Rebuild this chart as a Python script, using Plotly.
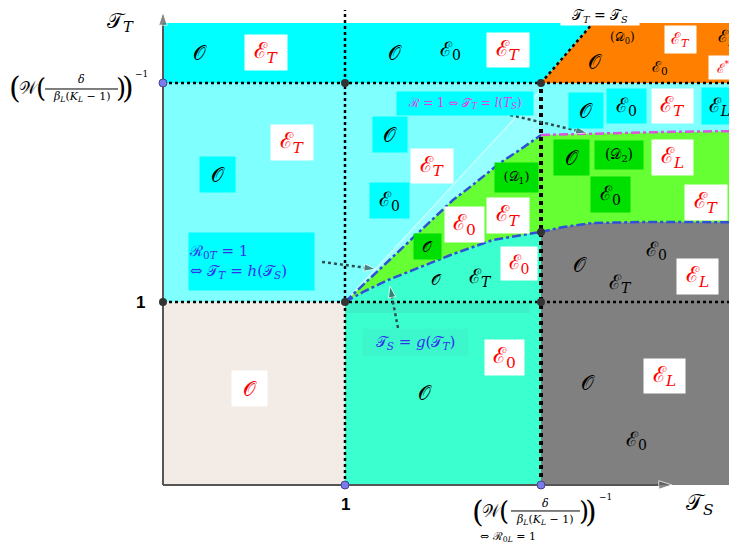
import plotly.graph_objects as go

# ---------------- key values (data units) ----------------
X_ONE = 1.0          # T_S = 1
X_W = 2.077          # T_S = (W(delta/(beta_L(K_L-1))))^-1
X_MAX = 3.154        # right edge of drawn domain
Y_ONE = 1.0          # T_T = 1
Y_W = 2.197          # T_T = (W(...))^-1
Y_MAX = 2.525        # top of drawn domain
X_DIAG_TOP = 2.363   # T_T = T_S line reaching the top
X_ARROW = 2.797      # tip of T_S axis
Y_ARROW = 2.585      # tip of T_T axis
Y_VTOP = 2.596       # top of the dotted T_S = 1 line

# curve T_T = h(T_S)  (R_0T = 1)
h_x = [1.0, 1.12, 1.286, 1.44, 1.593, 1.687, 1.852, 1.96, 2.077]
h_y = [1.0, 1.112, 1.268, 1.411, 1.557, 1.628, 1.760, 1.831, 1.913]
# curve T_S = g(T_T)
g_x = [1.0, 1.1, 1.236, 1.4, 1.593, 1.813, 2.077]
g_y = [1.0, 1.055, 1.120, 1.186, 1.262, 1.339, 1.383]
# continuation of the lower blue curve for T_S > W^-1
lr_x = [2.077, 2.2, 2.363, 2.637, 2.9, 3.154]
lr_y = [1.383, 1.41, 1.432, 1.437, 1.437, 1.435]
# curve R = 1  <=>  T_T = l(T_S)
m_x = [2.077, 2.4, 2.8, 3.154]
m_y = [1.913, 1.922, 1.930, 1.934]
# pale diagonal stripe end
pale_x = [1.0, 2.071]
pale_y = [1.0, 2.153]

# colours
C_CYAN = "#00FFFF"
C_LCYAN = "#80FFFF"
C_PALE = "#96FFFF"
C_ORANGE = "#FF8000"
C_GREEN = "#66FF33"
C_DGREEN = "#00E000"
C_GRAY = "#808080"
C_BEIGE = "#F3EBE6"
C_AQUA = "#3CFFCF"
C_STRIP = "#3EF0C8"
C_BLUE = "#3050D8"
C_MAG = "#DD55DD"
C_ARR = "#2F4F4F"
C_AXIS = "#555555"

FONT = "DejaVu Serif"

fig = go.Figure()


def poly(xs, ys, color):
    fig.add_trace(go.Scatter(x=xs, y=ys, fill="toself", fillcolor=color, mode="lines",
                             line=dict(width=0, color=color), hoverinfo="skip", showlegend=False))


def line(xs, ys, color, width, dash="solid", opacity=1.0):
    fig.add_trace(go.Scatter(x=xs, y=ys, mode="lines", opacity=opacity,
                             line=dict(width=width, color=color, dash=dash),
                             hoverinfo="skip", showlegend=False))


def arrow(xs, ys, color, width, dash, size):
    fig.add_trace(go.Scatter(x=xs, y=ys, mode="lines+markers",
                             line=dict(width=width, color=color, dash=dash),
                             marker=dict(symbol="arrow", angleref="previous", size=[0, size], color=color),
                             hoverinfo="skip", showlegend=False))


# ---------------- regions ----------------
poly([0, X_W, X_DIAG_TOP, 0], [Y_W, Y_W, Y_MAX, Y_MAX], C_CYAN)
poly([X_W, X_MAX, X_MAX, X_DIAG_TOP], [Y_W, Y_W, Y_MAX, Y_MAX], C_ORANGE)
poly([0, X_MAX, X_MAX, 0], [Y_ONE, Y_ONE, Y_W, Y_W], C_LCYAN)
poly([0, X_ONE, X_ONE, 0], [0, 0, Y_ONE, Y_ONE], C_BEIGE)
poly([X_ONE, X_W] + g_x[::-1], [0, 0] + g_y[::-1], C_AQUA)
poly([X_ONE, 2.016, 2.016, X_ONE], [0.94, 0.94, Y_ONE, Y_ONE], C_STRIP)
poly(pale_x + [X_W] + h_x[::-1], pale_y + [pale_y[-1]] + h_y[::-1], C_PALE)
poly(h_x + m_x[1:] + lr_x[::-1] + g_x[::-1][1:], h_y + m_y[1:] + lr_y[::-1] + g_y[::-1][1:], C_GREEN)
poly([X_W, X_MAX] + lr_x[::-1], [0, 0] + lr_y[::-1], C_GRAY)

# pale diagonal
line(pale_x, pale_y, "white", 1.2, opacity=0.6)

# ---------------- curves ----------------
line(h_x, h_y, C_BLUE, 2.5, "dashdot")
line(g_x, g_y, C_BLUE, 2.5, "dashdot")
line(lr_x, lr_y, C_BLUE, 2.5, "dashdot")
line(m_x, m_y, C_MAG, 2.5, "dashdot")

# ---------------- dotted reference lines ----------------
line([0, X_MAX], [Y_W, Y_W], "black", 2.5, "dot")
line([0, X_MAX], [Y_ONE, Y_ONE], "black", 2.5, "dot")
line([X_ONE, X_ONE], [0, Y_VTOP], "black", 2.5, "dot")
line([X_W, X_W], [0, Y_W], "black", 4, "dot")
line([X_W, X_DIAG_TOP], [Y_W, Y_MAX], "black", 2.5, "dot")

# ---------------- axes ----------------
arrow([0, X_ARROW], [0, 0], C_AXIS, 2, "solid", 14)
arrow([0, 0], [0, Y_ARROW], C_AXIS, 2, "solid", 14)

# pointer arrows
arrow([0.874, 1.168], [1.219, 1.180], C_ARR, 2.5, "dot", 12)
arrow([1.291, 1.247], [0.858, 1.087], C_ARR, 2.5, "dot", 12)
arrow([1.907, 2.330], [2.022, 1.924], C_ARR, 2.5, "dot", 12)

# ---------------- points ----------------
dark_x = [X_ONE, 0, X_ONE, X_W, X_W, X_W]
dark_y = [Y_W, Y_ONE, Y_ONE, Y_W, 1.383, Y_ONE]
blue_x = [0, X_ONE, X_W]
blue_y = [Y_W, 0, 0]
fig.add_trace(go.Scatter(x=dark_x, y=dark_y, mode="markers",
                         marker=dict(size=8, color="#333333"), hoverinfo="skip", showlegend=False))
fig.add_trace(go.Scatter(x=blue_x, y=blue_y, mode="markers",
                         marker=dict(size=8, color="#7B7BEE", line=dict(width=1, color="#444488")),
                         hoverinfo="skip", showlegend=False))

# ---------------- labels ----------------
O = "𝒪"
E = "ℰ"


def sub(s):
    return f"<sub>{s}</sub>"


def isub(s):
    return f"<sub><i>{s}</i></sub>"


# (text, x, y, colour, box colour, font size, box width, box height)
labels = [
    # top band
    (O, 0.203, 2.361, "black", C_CYAN, 20, 32, 35),
    (E + isub("T"), 0.566, 2.366, "red", "white", 22, 42, 35),
    (O, 1.275, 2.361, "black", None, 20, 0, 0),
    (E + sub("0"), 1.577, 2.377, "black", None, 20, 0, 0),
    (E + isub("T"), 1.896, 2.377, "red", "white", 22, 42, 34),
    # orange
    ("(𝒟" + sub("0") + ")", 2.527, 2.443, "black", None, 12, 0, 0),
    (O, 2.374, 2.311, "black", None, 20, 0, 0),
    (E + isub("T"), 2.846, 2.437, "red", "white", 16, 31, 27),
    (E + isub("L"), 3.099, 2.448, "black", None, 17, 0, 0),
    (E + sub("0"), 2.731, 2.284, "black", None, 15, 0, 0),
    (E + "<sup>*</sup>", 3.077, 2.279, "red", "white", 13, 28, 23),
    # left light cyan
    (E + isub("T"), 0.709, 1.869, "red", "white", 22, 42, 35),
    (O, 0.297, 1.699, "black", C_CYAN, 20, 35, 35),
    # middle
    (O, 1.247, 1.918, "black", C_CYAN, 20, 34, 35),
    (E + isub("T"), 1.478, 1.743, "red", "white", 22, 42, 34),
    (E + sub("0"), 1.247, 1.552, "black", C_CYAN, 20, 39, 35),
    ("(𝒟" + sub("1") + ")", 1.945, 1.683, "black", C_DGREEN, 13, 43, 29),
    (E + sub("0"), 1.659, 1.426, "red", "white", 22, 39, 35),
    (E + isub("T"), 1.896, 1.475, "red", "white", 22, 42, 35),
    (O, 1.451, 1.301, "black", C_DGREEN, 15, 27, 25),
    (O, 1.505, 1.120, "black", None, 15, 0, 0),
    (E + isub("T"), 1.742, 1.137, "black", None, 20, 0, 0),
    (E + sub("0"), 1.956, 1.213, "red", "white", 20, 36, 33),
    # right upper
    (O, 2.324, 2.049, "black", C_CYAN, 20, 34, 35),
    (E + sub("0"), 2.549, 2.071, "black", C_CYAN, 20, 39, 34),
    (E + isub("T"), 2.802, 2.071, "red", "white", 22, 41, 34),
    (E + isub("L"), 3.060, 2.071, "black", C_CYAN, 20, 35, 36),
    # D2
    (O, 2.247, 1.787, "black", C_DGREEN, 20, 35, 35),
    ("(𝒟" + sub("2") + ")", 2.505, 1.803, "black", C_DGREEN, 14, 48, 28),
    (E + isub("L"), 2.797, 1.787, "red", "white", 22, 41, 35),
    (E + sub("0"), 2.456, 1.590, "black", C_DGREEN, 20, 39, 35),
    (E + isub("T"), 2.984, 1.546, "red", "white", 22, 42, 35),
    # gray
    (E + sub("0"), 2.714, 1.284, "black", None, 20, 0, 0),
    (O, 2.291, 1.202, "black", None, 20, 0, 0),
    (E + isub("T"), 2.511, 1.104, "black", None, 20, 0, 0),
    (E + isub("L"), 2.934, 1.137, "red", "white", 22, 41, 35),
    (O, 2.335, 0.557, "black", None, 20, 0, 0),
    (E + isub("L"), 2.758, 0.596, "red", "white", 22, 41, 34),
    (E + sub("0"), 2.604, 0.246, "black", None, 20, 0, 0),
    # bottom middle
    (E + sub("0"), 1.879, 0.699, "red", "white", 22, 39, 35),
    (O, 1.440, 0.503, "black", None, 20, 0, 0),
    # bottom left
    (O, 0.473, 0.525, "red", "white", 20, 35, 35),
]

for text, x, y, col, bg, size, w, h in labels:
    kw = dict(x=x, y=y, xref="x", yref="y", text=text, showarrow=False,
              font=dict(family=FONT, size=size, color=col), borderpad=0)
    if bg:
        kw.update(bgcolor=bg, width=w, height=h)
    fig.add_annotation(**kw)

# descriptive labels for the curves
fig.add_annotation(x=0.486, y=1.221,
                   text="ℛ" + sub("0<i>T</i>") + " = 1<br>⇔ 𝒯" + isub("T") + " = <i>h</i>(𝒯" + isub("S") + ")",
                   showarrow=False, align="left", bgcolor=C_CYAN, width=125, height=57, borderpad=0,
                   font=dict(family=FONT, size=15, color="#3333EE"))
fig.add_annotation(x=1.659, y=2.087,
                   text="ℛ = 1 ⇔ 𝒯" + isub("T") + " = <i>l</i>(<i>T</i>" + isub("S") + ")",
                   showarrow=False, bgcolor=C_CYAN, width=136, height=23, borderpad=0,
                   font=dict(family=FONT, size=12, color="#EE33EE"))
fig.add_annotation(x=1.385, y=0.781, text="𝒯" + isub("S") + " = <i>g</i>(𝒯" + isub("T") + ")",
                   showarrow=False, bgcolor="#3DF7CC", width=105, height=27, borderpad=0,
                   font=dict(family=FONT, size=15, color="#3333EE"))
fig.add_annotation(x=2.401, y=2.563, text="𝒯" + isub("T") + " = 𝒯" + isub("S"),
                   showarrow=False, bgcolor="white", width=78, height=18, borderpad=0,
                   font=dict(family=FONT, size=14, color="black"))

# axis titles and ticks
fig.add_annotation(x=-0.236, y=2.530, text="𝒯" + isub("T"), showarrow=False,
                   font=dict(family=FONT, size=21, color="black"))
fig.add_annotation(x=2.951, y=-0.109, text="𝒯" + isub("S"), showarrow=False,
                   font=dict(family=FONT, size=22, color="black"))
fig.add_annotation(x=-0.126, y=Y_ONE, text="<b>1</b>", showarrow=False,
                   font=dict(family="Liberation Sans", size=17, color="black"))
fig.add_annotation(x=X_ONE, y=-0.109, text="<b>1</b>", showarrow=False,
                   font=dict(family="Liberation Sans", size=17, color="black"))


# W-formula: (W(delta / (beta_L(K_L-1))))^-1 ; placed by pixel offsets from an anchor
def w_formula(ax, ay, dx0, dy0):
    parts = [
        ("(", -67, 0, 30), ("𝒲", -53, 0, 17), ("(", -41, 0, 26),
        (")", 39, 0, 26), (")", 46, 0, 30),
    ]
    for t, dx, dy, s in parts:
        fig.add_annotation(x=ax, y=ay, text=t, showarrow=False, xshift=dx + dx0, yshift=dy + dy0,
                           font=dict(family=FONT, size=s, color="black"))
    fig.add_annotation(x=ax, y=ay, text="<i>δ</i>", showarrow=False, xshift=dx0, yshift=dy0 + 8,
                       font=dict(family=FONT, size=11, color="black"))
    fig.add_annotation(x=ax, y=ay, text="<i>β</i>" + isub("L") + "(<i>K</i>" + isub("L") + " − 1)",
                       showarrow=False, xshift=dx0, yshift=dy0 - 9,
                       font=dict(family=FONT, size=11, color="black"))
    fig.add_annotation(x=ax, y=ay, text="−1", showarrow=False, xshift=dx0 + 60, yshift=dy0 + 14,
                       font=dict(family=FONT, size=9, color="black"))


# left formula: bar centre at pixel (82, 89)
w_formula(0.0, Y_W, -81, -5)
fig.add_shape(type="line", xref="x", yref="y", x0=-0.648, x1=-0.247, y0=Y_W - 0.033, y1=Y_W - 0.033,
              line=dict(color="black", width=1))
# bottom formula: bar centre at pixel (545, 511)
w_formula(X_W, 0.0, 4, -26)
fig.add_shape(type="line", xref="x", yref="y", x0=X_W - 0.165, x1=X_W + 0.214, y0=-0.142, y1=-0.142,
              line=dict(color="black", width=1))
fig.add_annotation(x=X_W, y=0.0, text="⇔ ℛ" + sub("0<i>L</i>") + " = 1", showarrow=False,
                   xshift=-33, yshift=-52, font=dict(family=FONT, size=11, color="black"))

# the page body adds an 8 px margin, so the figure is sized and ranged to compensate
fig.update_layout(
    width=729, height=537, margin=dict(l=0, r=0, t=0, b=0),
    paper_bgcolor="white", plot_bgcolor="white",
    xaxis=dict(range=[-0.8516, 3.1538], visible=False, fixedrange=True),
    yaxis=dict(range=[-0.3279, 2.6066], visible=False, fixedrange=True),
    showlegend=False,
)

fig.write_html("out.html")
